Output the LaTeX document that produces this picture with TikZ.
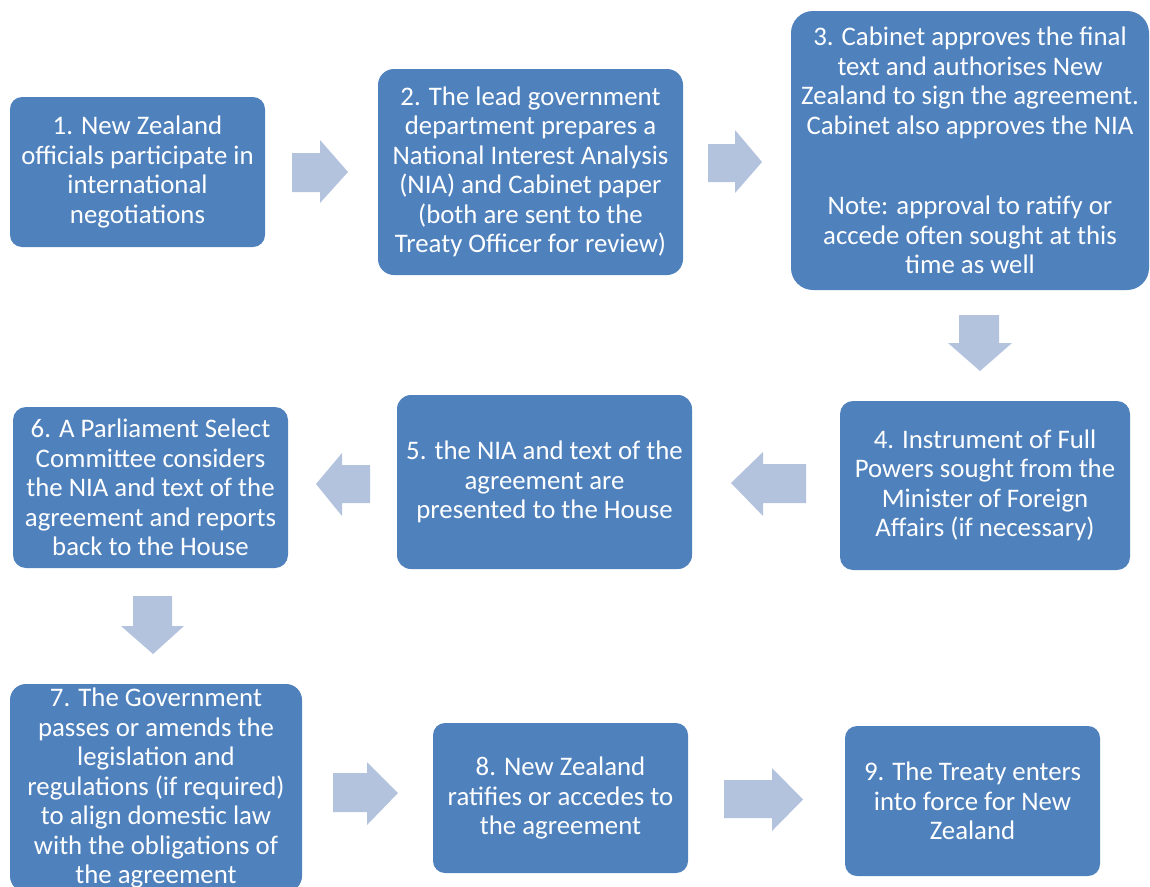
\documentclass[tikz,border=0pt]{standalone}
\usepackage{fontspec}
\setmainfont{Carlito}
\definecolor{boxblue}{HTML}{4F81BD}
\definecolor{arrowblue}{HTML}{B3C3DE}
\begin{document}
\begin{tikzpicture}[x=1pt,y=-1pt,
  box/.style={fill=boxblue, text=white, align=center, inner sep=0pt,
    font=\fontsize{26.8}{29.5}\selectfont},
  blockarrow/.style={fill=arrowblue}]
\clip (0,0) rectangle (1150,886);
\fill[white] (0,0) rectangle (1150,886);

\node[box, minimum width=255, minimum height=150, rounded corners=12] (n1) at (137.5,172)
  {1. New Zealand\\officials participate in\\international\\negotiations};
\node[box, minimum width=305, minimum height=206, rounded corners=16] (n2) at (530.5,172)
  {2. The lead government\\department prepares a\\National Interest Analysis\\(NIA) and Cabinet paper\\(both are sent to the\\Treaty Officer for review)};
\node[box, minimum width=358, minimum height=279, rounded corners=22] (n3) at (970,150.5)
  {3. Cabinet approves the final\\text and authorises New\\Zealand to sign the agreement.\\Cabinet also approves the NIA\\[51pt]Note: approval to ratify or\\accede often sought at this\\time as well};
\node[box, minimum width=290, minimum height=169, rounded corners=13] (n4) at (985,485.5)
  {4. Instrument of Full\\Powers sought from the\\Minister of Foreign\\Affairs (if necessary)};
\node[box, minimum width=295, minimum height=174, rounded corners=14] (n5) at (544.5,482)
  {5. the NIA and text of the\\agreement are\\presented to the House};
\node[box, minimum width=275, minimum height=161, rounded corners=13] (n6) at (150.5,487.5)
  {6. A Parliament Select\\Committee considers\\the NIA and text of the\\agreement and reports\\back to the House};
\node[box, minimum width=292, minimum height=208, rounded corners=16] (n7) at (156,788)
  {7. The Government\\passes or amends the\\legislation and\\regulations (if required)\\to align domestic law\\with the obligations of\\the agreement};
\node[box, minimum width=255, minimum height=150, rounded corners=12] (n8) at (560.5,798)
  {8. New Zealand\\ratifies or accedes to\\the agreement};
\node[box, minimum width=255, minimum height=150, rounded corners=12] (n9) at (972.5,801)
  {9. The Treaty enters\\into force for New\\Zealand};

% block arrows between the steps
% 1 -> 2
\fill[blockarrow] (292,153) -- (320,153) -- (320,140) -- (348,172) -- (320,203) -- (320,192) -- (292,192) -- cycle;
% 2 -> 3
\fill[blockarrow] (708,144) -- (735,144) -- (735,130) -- (762,162) -- (735,193) -- (735,182) -- (708,182) -- cycle;
% 3 -> 4
\fill[blockarrow] (959,315) -- (999,315) -- (999,343) -- (1012,343) -- (980,371) -- (948,343) -- (959,343) -- cycle;
% 4 -> 5
\fill[blockarrow] (806,464) -- (763,464) -- (763,452) -- (731,483) -- (763,516) -- (763,503) -- (806,503) -- cycle;
% 5 -> 6
\fill[blockarrow] (370,465) -- (342,465) -- (342,453) -- (316,484) -- (342,516) -- (342,503) -- (370,503) -- cycle;
% 6 -> 7
\fill[blockarrow] (133,596) -- (172,596) -- (172,626) -- (184,626) -- (153,654) -- (121,626) -- (133,626) -- cycle;
% 7 -> 8
\fill[blockarrow] (333,773) -- (367,773) -- (367,762) -- (398,793) -- (367,825) -- (367,812) -- (333,812) -- cycle;
% 8 -> 9
\fill[blockarrow] (724,780) -- (772,780) -- (772,768) -- (803,799.5) -- (772,831) -- (772,818) -- (724,818) -- cycle;
\end{tikzpicture}
\end{document}
